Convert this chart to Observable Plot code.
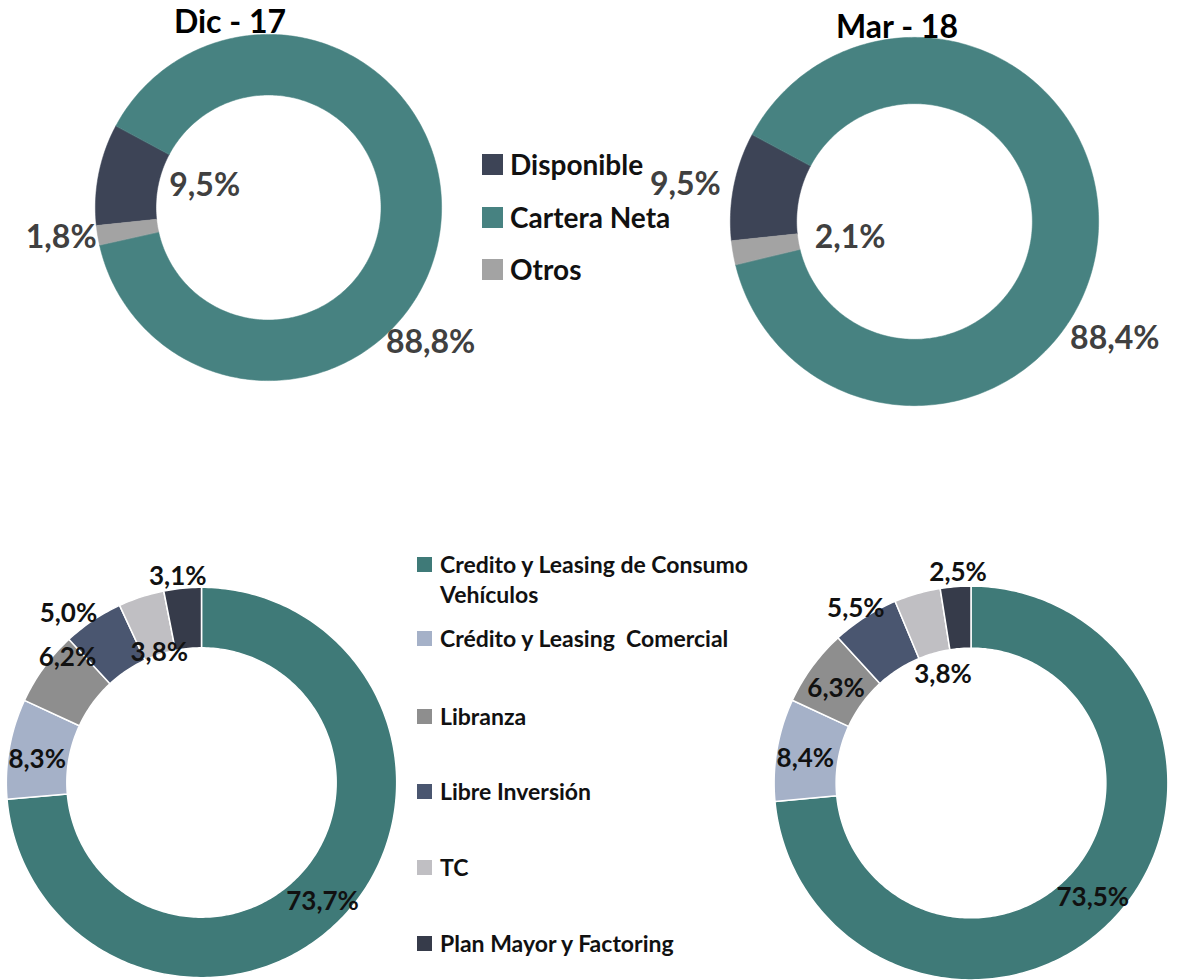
<!DOCTYPE html>
<html>
<head>
<meta charset="utf-8">
<script src="https://cdn.jsdelivr.net/npm/d3@7"></script>
<script src="https://cdn.jsdelivr.net/npm/@observablehq/plot@0.6"></script>
<style>
  html, body { margin: 0; padding: 0; background: #fff; }
  body { width: 1184px; height: 980px; overflow: hidden; position: relative; font-family: Lato, "Open Sans", sans-serif; font-weight: bold; }
  .abs { position: absolute; }
  .title { text-align: center; color: #000; font-size: 32px; line-height: 36px; width: 240px; }
  .item { display: flex; align-items: flex-start; color: #111; white-space: nowrap; }
  svg { max-width: none !important; }
</style>
</head>
<body>
<script>
// ---------------- DATA ----------------
const periods = ["Dic - 17", "Mar - 18"];

const activoCats = ["Disponible", "Cartera Neta", "Otros"];
const activoColors = ["#3d4456", "#478281", "#a3a3a3"];
const activoDic17 = [9.5, 88.8, 1.8];
const activoMar18 = [9.5, 88.4, 2.1];
const activoLabelsDic17 = ["9,5%", "88,8%", "1,8%"];
const activoLabelsMar18 = ["9,5%", "88,4%", "2,1%"];

const carteraCats = ["Credito y Leasing de Consumo Vehículos", "Crédito y Leasing  Comercial", "Libranza", "Libre Inversión", "TC", "Plan Mayor y Factoring"];
const carteraLegend = [["Credito y Leasing de Consumo", "Vehículos"], ["Crédito y Leasing  Comercial"], ["Libranza"], ["Libre Inversión"], ["TC"], ["Plan Mayor y Factoring"]];
const carteraColors = ["#3f7a78", "#a5b1c8", "#8e8e8e", "#4a5670", "#c0bfc3", "#363b4a"];
const carteraDic17 = [73.7, 8.3, 6.2, 5.0, 3.8, 3.1];
const carteraMar18 = [73.5, 8.4, 6.3, 5.5, 3.8, 2.5];
const carteraLabelsDic17 = ["73,7%", "8,3%", "6,2%", "5,0%", "3,8%", "3,1%"];
const carteraLabelsMar18 = ["73,5%", "8,4%", "6,3%", "5,5%", "3,8%", "2,5%"];

// ---------------- LAYOUT (label placement: angle shift in degrees, radius as fraction of outer radius) ----------------
const layoutActivoDic17 = {cx: 268, cy: 207, R: 173, inner: 0.65, start: 264, shift: [8, 32, 1], rad: [0.39, 1.22, 1.21]};
const layoutActivoMar18 = {cx: 914, cy: 221, R: 184, inner: 0.64, start: 264, shift: [-2, 23, -4], rad: [1.26, 1.26, 0.36]};
const layoutCarteraDic17 = {cx: 201, cy: 782, R: 195, inner: 0.69, start: 0, shift: [2, -2, 7, -4.5, 0, -1], rad: [0.87, 0.85, 0.94, 1.10, 0.70, 1.06]};
const layoutCarteraMar18 = {cx: 970, cy: 782, R: 197, inner: 0.685, start: 0, shift: [1, -1.4, -1.3, -0.9, 1.4, 1], rad: [0.85, 0.85, 0.835, 1.06, 0.57, 1.07]};

const FONT = "Lato, 'Open Sans', sans-serif";

function donut(values, labels, cats, colors, L, opts) {
  const k = 1.45;
  const S = Math.round(2 * L.R * k);
  const total = d3.sum(values);
  const pts = [];
  const labs = [];
  let acc = L.start;
  values.forEach((v, i) => {
    const a0 = acc, a1 = acc + v / total * 360;
    acc = a1;
    const n = Math.max(2, Math.ceil(a1 - a0));
    for (let j = 0; j <= n; j++) {
      const a = (a0 + (a1 - a0) * j / n) * Math.PI / 180;
      pts.push({cat: cats[i], x: Math.sin(a), y: Math.cos(a)});
    }
    for (let j = n; j >= 0; j--) {
      const a = (a0 + (a1 - a0) * j / n) * Math.PI / 180;
      pts.push({cat: cats[i], x: L.inner * Math.sin(a), y: L.inner * Math.cos(a)});
    }
    const m = ((a0 + a1) / 2 + L.shift[i]) * Math.PI / 180;
    labs.push({text: labels[i], x: L.rad[i] * Math.sin(m), y: L.rad[i] * Math.cos(m)});
  });
  const chart = Plot.plot({
    width: S, height: S, margin: 0,
    x: {domain: [-k, k], axis: null},
    y: {domain: [-k, k], axis: null},
    color: {domain: cats, range: colors},
    style: {background: "transparent", overflow: "visible", fontFamily: FONT, maxWidth: "none"},
    marks: [
      Plot.line(pts, {x: "x", y: "y", z: "cat", fill: "cat", stroke: opts.sep ? "white" : "cat", strokeWidth: opts.sep ? 1.5 : 0.5, curve: "linear-closed"}),
      Plot.text(labs, {x: "x", y: "y", text: "text", fontSize: opts.fontSize, fontWeight: "bold", fill: opts.labelColor, fontFamily: FONT})
    ]
  });
  const wrap = document.createElement("div");
  wrap.className = "abs";
  wrap.style.left = (L.cx - S / 2) + "px";
  wrap.style.top = (L.cy - S / 2) + "px";
  wrap.style.width = S + "px";
  wrap.style.height = S + "px";
  wrap.appendChild(chart);
  document.body.appendChild(wrap);
}

donut(activoDic17, activoLabelsDic17, activoCats, activoColors, layoutActivoDic17, {fontSize: 32, labelColor: "#404040", sep: false});
donut(activoMar18, activoLabelsMar18, activoCats, activoColors, layoutActivoMar18, {fontSize: 32, labelColor: "#404040", sep: false});
donut(carteraDic17, carteraLabelsDic17, carteraCats, carteraColors, layoutCarteraDic17, {fontSize: 26, labelColor: "#111", sep: true});
donut(carteraMar18, carteraLabelsMar18, carteraCats, carteraColors, layoutCarteraMar18, {fontSize: 26, labelColor: "#111", sep: true});

// titles
[[periods[0], 230, 3], [periods[1], 897, 8]].forEach(([t, cx, top]) => {
  const d = document.createElement("div");
  d.className = "abs title";
  d.style.left = (cx - 120) + "px";
  d.style.top = top + "px";
  d.textContent = t;
  document.body.appendChild(d);
});

// legends
function legend(lines, colors, x, centers, fs, lh, sq, gap) {
  lines.forEach((ls, i) => {
    const d = document.createElement("div");
    d.className = "abs item";
    d.style.left = x + "px";
    d.style.top = (centers[i] - lh / 2) + "px";
    const s = document.createElement("div");
    s.style.cssText = `width:${sq}px;height:${sq}px;background:${colors[i]};margin-top:${(lh - sq) / 2}px;margin-right:${gap}px;flex:none`;
    const t = document.createElement("div");
    t.style.cssText = `font-size:${fs}px;line-height:${lh}px`;
    t.innerHTML = ls.map(l => l.replace(/  /g, " &nbsp;")).join("<br>");
    d.appendChild(s); d.appendChild(t);
    document.body.appendChild(d);
  });
}
legend(activoCats.map(c => [c]), activoColors, 482, [164, 217, 269], 28, 32, 21, 7);
legend(carteraLegend, carteraColors, 417, [564, 638, 716, 791, 867, 943], 23, 30, 15, 8);
</script>
</body>
</html>
